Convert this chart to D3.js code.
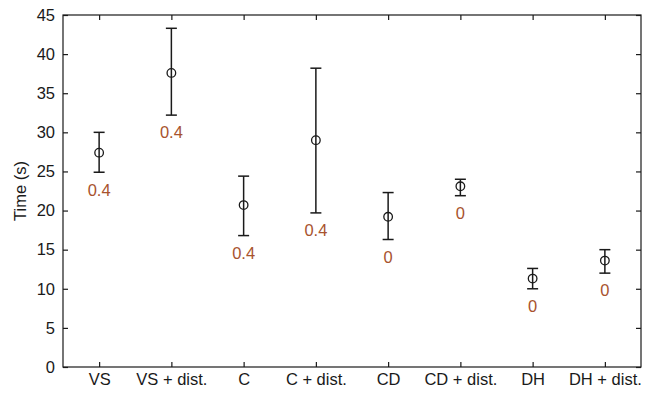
<!DOCTYPE html>
<html>
<head>
<meta charset="utf-8">
<script src="https://cdn.jsdelivr.net/npm/d3@7"></script>
<style>
  html, body { margin: 0; padding: 0; background: #fff; }
  svg { display: block; }
  text { font-family: Arial, "Liberation Sans", sans-serif; }
</style>
</head>
<body>
<svg id="chart" width="650" height="393"></svg>
<script>
// Task completion times per condition: mean with error bar bounds
const categories = ["VS", "VS + dist.", "C", "C + dist.", "CD", "CD + dist.", "DH", "DH + dist."];
const means  = [27.4, 37.6, 20.7, 29.0, 19.2, 23.1, 11.3, 13.6];
const lowers = [24.9, 32.2, 16.8, 19.7, 16.3, 21.9, 10.0, 12.0];
const uppers = [30.0, 43.3, 24.4, 38.2, 22.3, 24.0, 12.6, 15.0];
const notes  = ["0.4", "0.4", "0.4", "0.4", "0", "0", "0", "0"];
const yTicks = [0, 5, 10, 15, 20, 25, 30, 35, 40, 45];

const svg = d3.select("#chart");
const margin = { left: 63, right: 9, top: 15, bottom: 26 };
const W = 650, H = 393;
const x0 = margin.left, x1 = W - margin.right;
const y0 = H - margin.bottom, y1 = margin.top;

const x = d3.scalePoint().domain(categories).range([x0, x1]).padding(0.5);
const y = d3.scaleLinear().domain([0, 45]).range([y0, y1]);

const ink = "#1a1a1a";
const tickLen = 5;
const fontSize = 16.5;

// Frame
svg.append("rect")
  .attr("x", x0).attr("y", y1)
  .attr("width", x1 - x0).attr("height", y0 - y1)
  .attr("fill", "none").attr("stroke", ink).attr("stroke-width", 1.2);

// Left axis: ticks inward, labels outside
const axLeft = svg.append("g").attr("transform", `translate(${x0},0)`)
  .call(d3.axisLeft(y).tickValues(yTicks).tickSize(-tickLen).tickPadding(8).tickFormat(d3.format("d")));
// Right axis: inward ticks only
const axRight = svg.append("g").attr("transform", `translate(${x1},0)`)
  .call(d3.axisRight(y).tickValues(yTicks).tickSize(-tickLen).tickFormat(""));
// Bottom axis: inward ticks, category labels
const axBottom = svg.append("g").attr("transform", `translate(0,${y0})`)
  .call(d3.axisBottom(x).tickSize(-tickLen).tickPadding(6));
// Top axis: inward ticks only
const axTop = svg.append("g").attr("transform", `translate(0,${y1})`)
  .call(d3.axisTop(x).tickSize(-tickLen).tickFormat(""));

[axLeft, axRight, axBottom, axTop].forEach(g => {
  g.select(".domain").remove();
  g.selectAll(".tick line").attr("stroke", ink).attr("stroke-width", 1.2);
  g.selectAll(".tick text").attr("fill", ink).style("font-size", fontSize + "px")
    .style("font-family", "Arial, 'Liberation Sans', sans-serif");
});
axBottom.selectAll(".tick text").attr("dy", "0.71em");

// Y axis title
svg.append("text")
  .attr("transform", `translate(26,${(y0 + y1) / 2}) rotate(-90)`)
  .attr("text-anchor", "middle")
  .attr("fill", ink)
  .style("font-size", fontSize + "px")
  .text("Time (s)");

// Error bars
const capHalf = 5.5;
const rows = categories.map((c, i) => ({ c, m: means[i], lo: lowers[i], hi: uppers[i], note: notes[i] }));
const marks = svg.append("g");
const item = marks.selectAll("g.item").data(rows).join("g").attr("class", "item");

item.append("line")
  .attr("x1", d => x(d.c)).attr("x2", d => x(d.c))
  .attr("y1", d => y(d.lo)).attr("y2", d => y(d.hi))
  .attr("stroke", ink).attr("stroke-width", 1.5);
item.append("line")
  .attr("x1", d => x(d.c) - capHalf).attr("x2", d => x(d.c) + capHalf)
  .attr("y1", d => y(d.hi)).attr("y2", d => y(d.hi))
  .attr("stroke", ink).attr("stroke-width", 1.5);
item.append("line")
  .attr("x1", d => x(d.c) - capHalf).attr("x2", d => x(d.c) + capHalf)
  .attr("y1", d => y(d.lo)).attr("y2", d => y(d.lo))
  .attr("stroke", ink).attr("stroke-width", 1.5);
item.append("circle")
  .attr("cx", d => x(d.c)).attr("cy", d => y(d.m)).attr("r", 4.3)
  .attr("fill", "none").attr("stroke", ink).attr("stroke-width", 1.3);

// Annotation under each bar
item.append("text")
  .attr("x", d => x(d.c))
  .attr("y", d => y(d.lo) + 17.5)
  .attr("dy", "0.35em")
  .attr("text-anchor", "middle")
  .attr("fill", "#a8532e")
  .style("font-size", fontSize + "px")
  .text(d => d.note);
</script>
</body>
</html>
